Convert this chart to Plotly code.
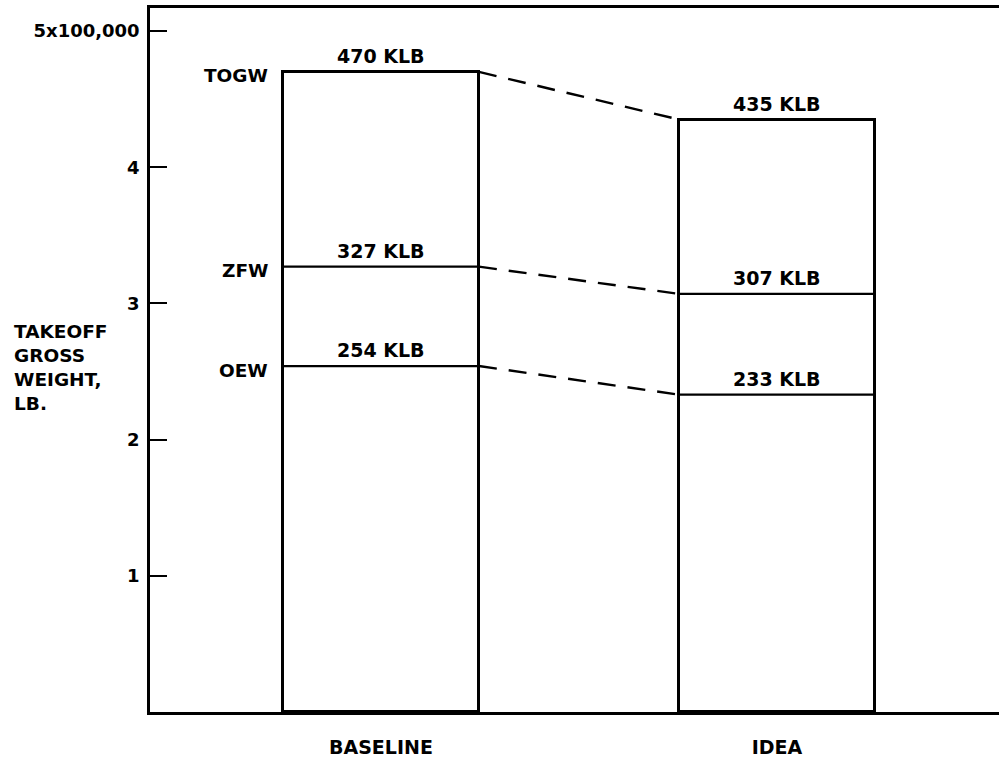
import plotly.graph_objects as go

# Weight breakdown, KLB
configs = ["BASELINE", "IDEA"]
togw = [470, 435]   # takeoff gross weight
zfw = [327, 307]    # zero fuel weight
oew = [254, 233]    # operating empty weight
level_names = ["TOGW", "ZFW", "OEW"]
y_tick_vals = [100, 200, 300, 400, 500]
y_tick_text = ["1", "2", "3", "4", "5x100,000"]

FONT = "DejaVu Sans"
BAR_W = 0.495
xpos = list(range(len(configs)))
levels = [togw, zfw, oew]

fig = go.Figure()

# Outlined columns, full height = TOGW
fig.add_trace(go.Bar(
    x=xpos, y=togw, width=BAR_W,
    marker=dict(color="white", line=dict(color="black", width=3)),
    hoverinfo="skip", showlegend=False,
))

# Internal level lines (ZFW, OEW) across each column
for vals in (zfw, oew):
    for xi, v in zip(xpos, vals):
        fig.add_trace(go.Scatter(
            x=[xi - BAR_W / 2, xi + BAR_W / 2], y=[v, v], mode="lines",
            line=dict(color="black", width=2.2),
            hoverinfo="skip", showlegend=False,
        ))

# Dashed connectors between the two configurations
for vals in levels:
    fig.add_trace(go.Scatter(
        x=[xpos[0] + BAR_W / 2, xpos[1] - BAR_W / 2], y=[vals[0], vals[1]],
        mode="lines", line=dict(color="black", width=2.4, dash="18px,12px"),
        hoverinfo="skip", showlegend=False,
    ))

annotations = []
# Value labels above each level line
for vals in levels:
    for xi, v in zip(xpos, vals):
        annotations.append(dict(
            x=xi, y=v, xref="x", yref="y", text=f"{v} KLB", showarrow=False,
            xanchor="center", yanchor="middle", yshift=16,
            font=dict(family=FONT, size=19, color="black", weight="bold"),
        ))

# Level names to the left of the first column
for name, vals in zip(level_names, levels):
    annotations.append(dict(
        x=xpos[0] - BAR_W / 2, y=vals[0], xref="x", yref="y", text=name,
        showarrow=False, xanchor="right", yanchor="middle", xshift=-13, yshift=-4,
        font=dict(family=FONT, size=18.5, color="black", weight="bold"),
    ))

# Vertical axis title, stacked on the left
annotations.append(dict(
    x=-0.163, y=0.489, xref="paper", yref="paper",
    text="TAKEOFF<br>GROSS<br>WEIGHT,<br>LB.", showarrow=False,
    xanchor="left", yanchor="middle", align="left",
    font=dict(family=FONT, size=18.5, color="black", weight="bold"),
))

fig.update_layout(
    width=999, height=760,
    margin=dict(l=150, r=0, t=8, b=48),
    paper_bgcolor="white", plot_bgcolor="white",
    annotations=annotations,
    font=dict(family=FONT, size=18, color="black", weight="bold"),
    xaxis=dict(
        range=[-0.5831, 1.5605], tickvals=xpos, ticktext=configs,
        showgrid=False, zeroline=False, ticks="",
        showline=True, mirror=True, linecolor="black", linewidth=2.5,
        ticklabelstandoff=16,
        tickfont=dict(family=FONT, size=19, color="black", weight="bold"),
    ),
    yaxis=dict(
        range=[0, 516.9], tickvals=y_tick_vals, ticktext=y_tick_text,
        showgrid=False, zeroline=False,
        ticks="inside", ticklen=17, tickwidth=2.2, tickcolor="black",
        showline=True, linecolor="black", linewidth=2.5,
        ticklabelstandoff=4,
        tickfont=dict(family=FONT, size=18, color="black", weight="bold"),
    ),
    bargap=0,
)

fig.write_html("out.html")
